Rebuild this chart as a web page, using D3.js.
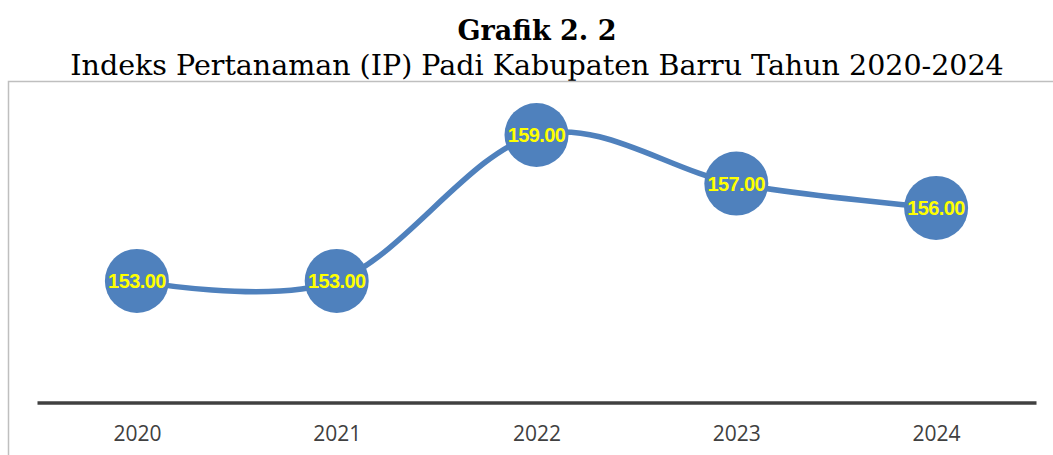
<!DOCTYPE html>
<html>
<head>
<meta charset="utf-8">
<script src="https://cdn.jsdelivr.net/npm/d3@7"></script>
<style>
  body { margin: 0; background: #fff; }
</style>
</head>
<body>
<div id="chart"></div>
<script>
const canvas_w  =   1053;
const canvas_h  =   455;

// data
const years     =   [ '2020', '2021', '2022', '2023', '2024' ];
const values    =   [ 153, 153, 159, 157, 156 ];
const title     =   'Grafik 2. 2';
const subtitle  =   'Indeks Pertanaman (IP) Padi Kabupaten Barru Tahun 2020-2024';

const blue      =   '#4F81BD';

let svg         =   d3.select( '#chart' )
                      .append( 'svg' )
                      .attr( 'width', canvas_w )
                      .attr( 'height', canvas_h );

// titles
svg.append( 'text' )
   .attr( 'x', 537 )
   .attr( 'y', 40 )
   .attr( 'text-anchor', 'middle' )
   .attr( 'font-family', 'DejaVu Serif' )
   .attr( 'font-weight', 'bold' )
   .attr( 'font-size', 27 )
   .text( title );

svg.append( 'text' )
   .attr( 'x', 537 )
   .attr( 'y', 75 )
   .attr( 'text-anchor', 'middle' )
   .attr( 'font-family', 'DejaVu Serif' )
   .attr( 'font-size', 28.5 )
   .text( subtitle );

// chart frame
svg.append( 'rect' )
   .attr( 'x', 8.5 )
   .attr( 'y', 81.5 )
   .attr( 'width', canvas_w )
   .attr( 'height', canvas_h )
   .attr( 'fill', 'none' )
   .attr( 'stroke', '#BFBFBF' )
   .attr( 'stroke-width', 1.5 );

let x           =   d3.scalePoint()
                      .domain( years )
                      .range( [ 37, 1036 ] )
                      .padding( 0.5 );

let y           =   d3.scaleLinear()
                      .domain( [ 148, 162 ] )
                      .range( [ 402.5, 62 ] );

// category axis
let xAxis = svg.append( 'g' )
   .attr( 'transform', 'translate(0,' + y( 148 ) + ')' )
   .call( d3.axisBottom( x ).tickSize( 0 ).tickPadding( 24 ) );

xAxis.select( '.domain' )
     .attr( 'stroke', '#404040' )
     .attr( 'stroke-width', 3.5 );

xAxis.selectAll( 'text' )
     .attr( 'font-family', 'Open Sans' )
     .attr( 'font-size', 21 )
     .attr( 'fill', '#404040' );

let points = years.map( ( d, i ) => [ x( d ), y( values[ i ] ) ] );

let line        =   d3.line()
                      .curve( d3.curveCatmullRom.alpha( 0 ) );

svg.append( 'path' )
   .attr( 'd', line( points ) )
   .attr( 'fill', 'none' )
   .attr( 'stroke', blue )
   .attr( 'stroke-width', 5.5 )
   .attr( 'stroke-linecap', 'round' );

svg.selectAll( 'circle' )
   .data( values )
   .enter()
   .append( 'circle' )
   .attr( 'cx', ( d, i ) => x( years[ i ] ) )
   .attr( 'cy', d => y( d ) )
   .attr( 'r', 32 )
   .attr( 'fill', blue );

svg.selectAll( '.lbl' )
   .data( values )
   .enter()
   .append( 'text' )
   .attr( 'class', 'lbl' )
   .attr( 'x', ( d, i ) => x( years[ i ] ) )
   .attr( 'y', d => y( d ) + 7 )
   .attr( 'text-anchor', 'middle' )
   .attr( 'font-family', 'Liberation Sans' )
   .attr( 'font-weight', 'bold' )
   .attr( 'font-size', 20 )
   .attr( 'letter-spacing', -0.6 )
   .attr( 'fill', '#FFFF00' )
   .text( d => d.toFixed( 2 ) );
</script>
</body>
</html>
